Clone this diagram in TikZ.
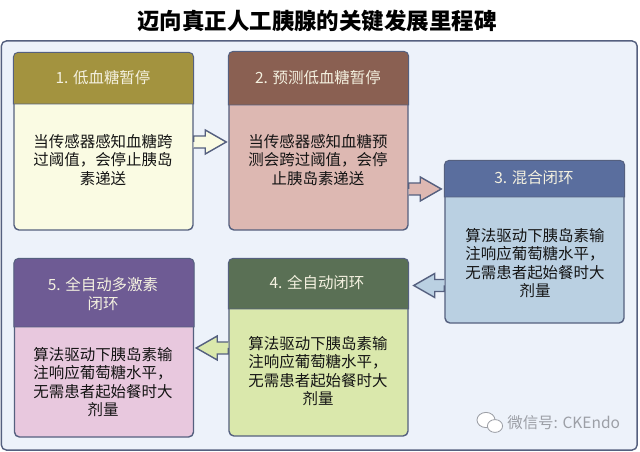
\documentclass[tikz,border=0pt]{standalone}
\usepackage{fontspec}
\setmainfont{Noto Sans CJK SC}
\usetikzlibrary{calc}
\usetikzlibrary{shapes.geometric}
\definecolor{edgeColor}{HTML}{55607F}
\definecolor{panelColor}{HTML}{EDF2FA}
\definecolor{headOne}{HTML}{A3933F}
\definecolor{bodyOne}{HTML}{FAFBE3}
\definecolor{headTwo}{HTML}{8A6052}
\definecolor{bodyTwo}{HTML}{DDB8B2}
\definecolor{headThree}{HTML}{5A6E9E}
\definecolor{bodyThree}{HTML}{BAD0E2}
\definecolor{headFour}{HTML}{5A7055}
\definecolor{bodyFour}{HTML}{DAE8AC}
\definecolor{headFive}{HTML}{6E5B94}
\definecolor{bodyFive}{HTML}{E8C8DE}
\definecolor{headText}{HTML}{F4F1E0}
\definecolor{markColor}{HTML}{9C9FA6}
\newcommand{\headBand}[3]{\draw[edgeColor, line width=0.7pt, fill=#2] (#1.west |- 0,#3) [rounded corners=0.125cm] -- (#1.north west) -- (#1.north east) [sharp corners] -- (#1.east |- 0,#3) -- cycle;}

\begin{document}
\begin{tikzpicture}[x=0.025cm, y=-0.025cm]

          \tikzstyle{panelBox} = [draw=edgeColor, line width=1pt, fill=panelColor, rounded corners=0.125cm, minimum width=15.89cm, minimum height=10.225cm, inner sep=0pt];
          \tikzstyle{stageBox} = [draw=edgeColor, line width=1pt, rounded corners=0.125cm, minimum width=4.475cm, inner sep=0pt];
          \tikzstyle{titleText} = [font=\fontsize{16}{19}\selectfont\bfseries, text=black];
          \tikzstyle{headLabel} = [font=\fontsize{11}{13.5}\selectfont, text=headText, align=center];
          \tikzstyle{bodyLabel} = [font=\fontsize{11}{13}\selectfont, text=black!92, align=center];
          \tikzstyle{markLabel} = [font=\fontsize{11}{14}\selectfont, text=markColor];
          \tikzstyle{iconBubble} = [draw=markColor, line width=0.6pt, fill=white, ellipse, inner sep=0pt];
          \tikzset{blockEdge/.style={draw=edgeColor, line width=1pt, to path={let \p1=($(\tikztotarget)!#1!(\tikztostart)$), \p2=($(\p1)!0.525cm!(\tikztostart)$) in -- ($(\tikztostart)!0.15cm!90:(\p2)$) -- ($(\p2)!0.15cm!-90:(\tikztostart)$) -- ($(\p2)!0.3cm!-90:(\tikztostart)$) -- (\p1) -- ($(\p2)!0.3cm!90:(\tikztostart)$) -- ($(\p2)!0.15cm!90:(\tikztostart)$) -- ($(\tikztostart)!0.15cm!-90:(\p2)$)}}};

          \useasboundingbox (0,0) rectangle (640,452);

          \node[titleText] (title) at (317,21) {迈向真正人工胰腺的关键发展里程碑};
          \node[panelBox] (panel) at (319.25,245.5) {};

          \node[stageBox, fill=bodyOne, minimum height=4.425cm] (box1) at (103.5,141.5) {};
          \node[stageBox, fill=bodyTwo, minimum height=4.45cm] (box2) at (318.5,141) {};
          \node[stageBox, fill=bodyThree, minimum height=4.05cm] (box3) at (534.5,242) {};
          \node[stageBox, fill=bodyFour, minimum height=4.425cm] (box4) at (318.5,347.5) {};
          \node[stageBox, fill=bodyFive, minimum height=4.45cm] (box5) at (104,348) {};

          \headBand{box1}{headOne}{104}
          \headBand{box2}{headTwo}{105}
          \headBand{box3}{headThree}{197}
          \headBand{box4}{headFour}{309}
          \headBand{box5}{headFive}{327}

          \node[headLabel] (head1) at (103,78) {1. 低血糖暂停};
          \node[headLabel] (head2) at (318,78) {2. 预测低血糖暂停};
          \node[headLabel] (head3) at (534,178) {3. 混合闭环};
          \node[headLabel] (head4) at (317,283) {4. 全自动闭环};
          \node[headLabel] (head5) at (103,294) {5. 全自动多激素\\闭环};

          \node[bodyLabel] (text1) at (103,160) {当传感器感知血糖跨\\过阈值，会停止胰岛\\素递送};
          \node[bodyLabel] (text2) at (318,160) {当传感器感知血糖预\\测会跨过阈值，会停\\止胰岛素递送};
          \node[bodyLabel] (text3) at (535,263) {算法驱动下胰岛素输\\注响应葡萄糖水平，\\无需患者起始餐时大\\剂量};
          \node[bodyLabel] (text4) at (318,371) {算法驱动下胰岛素输\\注响应葡萄糖水平，\\无需患者起始餐时大\\剂量};
          \node[bodyLabel] (text5) at (103,382) {算法驱动下胰岛素输\\注响应葡萄糖水平，\\无需患者起始餐时大\\剂量};

          \draw[blockEdge=0.05cm, fill=bodyOne] (box1.east |- 0,142) to (box2.west |- 0,142);
          \draw[blockEdge=0.075cm, fill=bodyTwo] (box2.east |- 0,189) to (box3.west |- 0,189);
          \draw[blockEdge=0.125cm, fill=bodyThree] (box3.west |- 0,285.5) to (box4.east |- 0,285.5);
          \draw[blockEdge=0.05cm, fill=bodyFour] (box4.west |- 0,348) to (box5.east |- 0,348);

          \node[iconBubble, minimum width=0.45cm, minimum height=0.38cm] (bubbleA) at (486,420) {};
          \node[iconBubble, minimum width=0.38cm, minimum height=0.32cm] (bubbleB) at (495,426) {};
          \node[markLabel, anchor=west, inner sep=0pt] (mark) at (507,423) {微信号: CKEndo};
        \end{tikzpicture}
\end{document}
